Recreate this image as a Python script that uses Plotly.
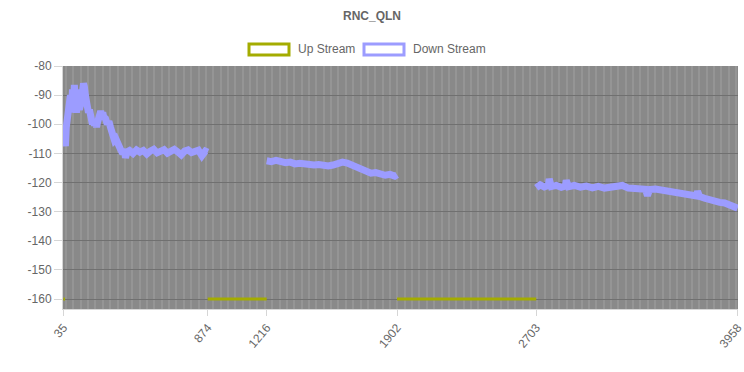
import numpy as np
import plotly.graph_objects as go

# ---------------- data ----------------
title_text = "RNC_QLN"
series_names = ["Up Stream", "Down Stream"]

# labelled tones on the category axis and their category index
tick_tones = [35, 874, 1216, 1902, 2703, 3958]
tick_index = [0, 835, 1176, 1930, 2735, 3900]

y_ticks = [-80, -90, -100, -110, -120, -130, -140, -150, -160]

# Down stream, three bands
down_tones_1 = [35, 40, 47, 52, 58, 64, 70, 76, 82, 88, 94, 99, 105, 111, 117, 122, 128, 134, 140,
                146, 152, 157, 163, 169, 175, 181, 187, 193, 198, 204, 210, 216, 222, 228, 233, 240,
                246, 252, 258, 264, 270, 280, 290, 300, 309, 316, 324, 332, 340, 348, 356, 361, 370,
                380, 390, 396, 405, 420, 440, 460, 480, 500, 520, 540, 560, 580, 600, 620, 640, 660,
                680, 700, 720, 740, 760, 780, 800, 820, 840, 860, 874]
down_vals_1 = [-103, -106.5, -107.5, -101, -97, -92, -94, -90, -96, -88, -94, -86.5, -92, -96, -89,
               -88, -95, -94, -92, -89, -86, -87, -90, -93, -92, -96, -95, -98, -97, -100, -98.5,
               -100.5, -99, -101, -99.5, -98, -96.5, -95.5, -97, -96, -97.5, -98, -100, -99, -101,
               -103, -104, -105.5, -105, -106.5, -108, -107, -109, -110, -108.5, -111.5, -109.5,
               -109, -110, -108.8, -109.6, -109, -110.2, -109.2, -108.6, -109.8, -109.3, -108.7,
               -109.9, -109.1, -108.6, -109.5, -110.5, -109.2, -108.8, -109.7, -109.1, -108.9,
               -110.8, -109.2, -109.6]

down_tones_2 = [1216, 1240, 1265, 1290, 1315, 1340, 1365, 1390, 1415, 1440, 1465, 1490, 1515, 1540,
                1565, 1590, 1615, 1640, 1665, 1690, 1715, 1740, 1765, 1790, 1815, 1840, 1865, 1890, 1902]
down_vals_2 = [-112.5, -112.8, -112.4, -113.0, -113.2, -113.0, -113.6, -113.4, -113.8, -113.6, -114.0,
               -113.8, -114.2, -114.3, -114.0, -113.4, -113.0, -113.3, -114.0, -115.0, -115.4, -116.0,
               -116.8, -116.6, -117.2, -117.5, -117.2, -117.8, -117.3]

down_tones_3 = [2703, 2728, 2753, 2778, 2784, 2797, 2828, 2859, 2884, 2890, 2903, 2940, 2978, 3015,
                3053, 3090, 3128, 3165, 3203, 3240, 3277, 3315, 3352, 3384, 3396, 3409, 3446, 3484,
                3521, 3558, 3596, 3633, 3671, 3702, 3708, 3721, 3752, 3783, 3814, 3846, 3877, 3908,
                3933, 3958]
down_vals_3 = [-121.8, -120.8, -121.5, -121.0, -118.8, -121.4, -121.0, -121.6, -121.2, -119.2, -121.4,
               -121.0, -121.6, -121.2, -121.8, -121.3, -121.9, -121.5, -121.2, -121.0, -121.9, -122.1,
               -122.0, -122.3, -124.5, -122.4, -122.2, -122.5, -122.6, -122.9, -123.3, -123.8, -124.2,
               -124.6, -123.0, -124.8, -125.4, -126.0, -126.2, -126.8, -127.0, -127.8, -128.2, -128.8]

# Up stream, three short bands at the floor
up_tones_1 = [35, 45]
up_vals_1 = [-160, -160]
up_tones_2 = [874, 1216]
up_vals_2 = [-160, -160]
up_tones_3 = [1902, 2703]
up_vals_3 = [-160, -160]

# ---------------- build ----------------
def to_idx(t):
    return np.interp(np.asarray(t, dtype=float), tick_tones, tick_index)

def join(parts):
    xs, ys = [], []
    for k, (t, v) in enumerate(parts):
        if k:
            xs.append(None)
            ys.append(None)
        xs.extend(to_idx(t).tolist())
        ys.extend(v)
    return xs, ys

up_x, up_y = join([(up_tones_1, up_vals_1), (up_tones_2, up_vals_2), (up_tones_3, up_vals_3)])
dn_x, dn_y = join([(down_tones_1, down_vals_1), (down_tones_2, down_vals_2), (down_tones_3, down_vals_3)])

up_color = "#a4ac00"
dn_color = "#9c9cff"
txt = "#666666"
FONT = "Liberation Sans, Arial, sans-serif"

fig = go.Figure()
fig.add_trace(go.Scatter(x=up_x, y=up_y, mode="lines", name=series_names[0],
                         line=dict(color=up_color, width=3), connectgaps=False, showlegend=False))
fig.add_trace(go.Scatter(x=dn_x, y=dn_y, mode="lines", name=series_names[1],
                         line=dict(color=dn_color, width=7, shape="linear"), connectgaps=False,
                         showlegend=False))

W, H = 744, 372
L, R, T, B = 63, 6, 66, 63
pw, ph = W - L - R, H - T - B

def px(x):
    return (x - L) / pw

def py(y):
    return (H - B - y) / ph

shapes = []
annotations = []
# legend boxes (chart.js style)
for (x0, x1, lx, name, col) in [(249, 289, 296, series_names[0], up_color),
                                (364, 404, 411, series_names[1], dn_color)]:
    shapes.append(dict(type="rect", xref="paper", yref="paper", x0=px(x0), x1=px(x1),
                       y0=py(55), y1=py(44), line=dict(color=col, width=3), fillcolor="white"))
    annotations.append(dict(text=name, xref="paper", yref="paper", x=px(lx), y=py(49.5),
                            xanchor="left", yanchor="middle", showarrow=False,
                            font=dict(family=FONT, size=12, color=txt)))

fig.update_layout(
    width=W, height=H,
    margin=dict(l=L, r=R, t=T, b=B, autoexpand=False),
    paper_bgcolor="white",
    plot_bgcolor="#898989",
    title=dict(text="<b>" + title_text + "</b>", x=372 / W, xref="container", xanchor="center",
               y=1 - 16 / H, yanchor="middle",
               font=dict(family=FONT, size=12, color=txt)),
    font=dict(family=FONT, size=12, color=txt),
    shapes=shapes,
    annotations=annotations,
    showlegend=False,
)

x_lo = to_idx(tick_tones[0]).item()
x_hi = to_idx(tick_tones[-1]).item()
fig.update_xaxes(
    range=[x_lo - 2, x_hi + 2],
    automargin=False,
    tickmode="array", tickvals=to_idx(tick_tones).tolist(), ticktext=[str(t) for t in tick_tones],
    tickangle=-50, ticks="outside", ticklen=6, tickcolor="#d6d6d6",
    ticklabeloverflow="allow",
    showgrid=False, zeroline=False,
    showline=True, linecolor="#d6d6d6", linewidth=1,
    tickfont=dict(family=FONT, size=12, color=txt),
    minor=dict(tickmode="linear", tick0=15, dtick=42.6, showgrid=True,
               gridcolor="#959595", gridwidth=2, ticks=""),
)
fig.update_yaxes(
    range=[-163.4, -80],
    automargin=False,
    tickmode="array", tickvals=y_ticks, ticktext=[str(v) for v in y_ticks],
    ticks="outside", ticklen=8, tickcolor="#d6d6d6",
    showgrid=True, gridcolor="#707070", gridwidth=1, zeroline=False,
    showline=True, linecolor="#d6d6d6", linewidth=1,
    tickfont=dict(family=FONT, size=12, color=txt),
)

fig.write_html("out.html")
